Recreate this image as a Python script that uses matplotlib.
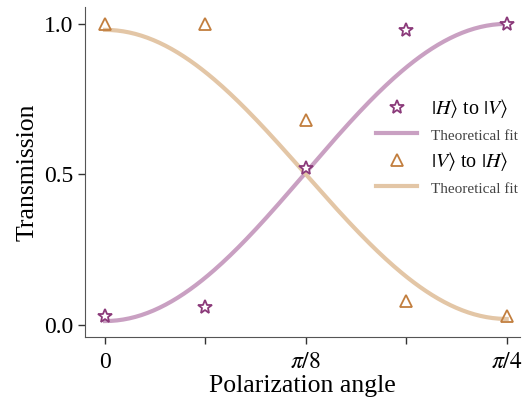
import numpy as np
import matplotlib
matplotlib.use("Agg")
import matplotlib.pyplot as plt

plt.rcParams['font.family'] = ['Liberation Serif', 'DejaVu Serif']
plt.rcParams['mathtext.fontset'] = 'stix'

# data (angle in units of pi)
angles = np.array([0, 1/16, 2/16, 3/16, 4/16]) * np.pi
h_to_v = [0.03, 0.06, 0.52, 0.98, 1.0]
v_to_h = [1.0, 1.0, 0.68, 0.08, 0.03]

# theoretical fit parameters
hv_min, hv_max = 0.013, 1.0
vh_max, vh_min = 0.98, 0.02

theta = np.linspace(0, np.pi / 4, 200)
fit_hv = hv_min + (hv_max - hv_min) * np.sin(2 * theta) ** 2
fit_vh = vh_min + (vh_max - vh_min) * np.cos(2 * theta) ** 2

fig = plt.figure(figsize=(5.25, 4), dpi=100)
ax = fig.add_axes([0.162, 0.1575, 0.828, 0.825])

star_c = '#8B3A7A'
pink_c = '#C9A0C2'
tri_c = '#C27E3E'
tan_c = '#E3C6A6'

ax.plot(angles, h_to_v, linestyle='none', marker='*', markersize=10.5,
        markerfacecolor='white', markeredgecolor=star_c, markeredgewidth=1.3,
        label=r'$|H\rangle$ to $|V\rangle$', zorder=3)
ax.plot(theta, fit_hv, color=pink_c, lw=3, label='Theoretical fit', zorder=2)
ax.plot(angles, v_to_h, linestyle='none', marker='^', markersize=9,
        markerfacecolor='none', markeredgecolor=tri_c, markeredgewidth=1.3,
        label=r'$|V\rangle$ to $|H\rangle$', zorder=3)
ax.plot(theta, fit_vh, color=tan_c, lw=3, label='Theoretical fit', zorder=2)

ax.set_xlim(-0.0995 * np.pi / 8, np.pi / 4 + 0.065 * np.pi / 8)
ax.set_ylim(-0.04, 1.056)

ax.set_xticks([0, np.pi / 8, np.pi / 4])
ax.set_xticklabels(['0', r'$\pi/8$', r'$\pi/4$'])
ax.set_xticks([np.pi / 16, 3 * np.pi / 16], minor=True)
ax.set_yticks([0, 0.5, 1.0])
ax.set_yticklabels(['0.0', '0.5', '1.0'])
ax.tick_params(axis='both', which='both', direction='out', length=5, width=1,
               labelsize=17, colors='#333333', labelcolor='black')
ax.tick_params(axis='x', which='major', pad=6)

for s in ['top', 'right']:
    ax.spines[s].set_visible(False)
for s in ['left', 'bottom']:
    ax.spines[s].set_color('#555555')

ax.set_xlabel('Polarization angle', fontsize=18.5, labelpad=1)
ax.set_ylabel('Transmission', fontsize=18.5, labelpad=4)

leg = ax.legend(loc='upper right', bbox_to_anchor=(1.037, 0.783), frameon=False,
                handlelength=2.0, handletextpad=0.7, labelspacing=0.32,
                fontsize=14.5)
texts = leg.get_texts()
for t in (texts[1], texts[3]):
    t.set_fontsize(11)
    t.set_color('#444444')

fig.savefig('out.png', dpi=100)
